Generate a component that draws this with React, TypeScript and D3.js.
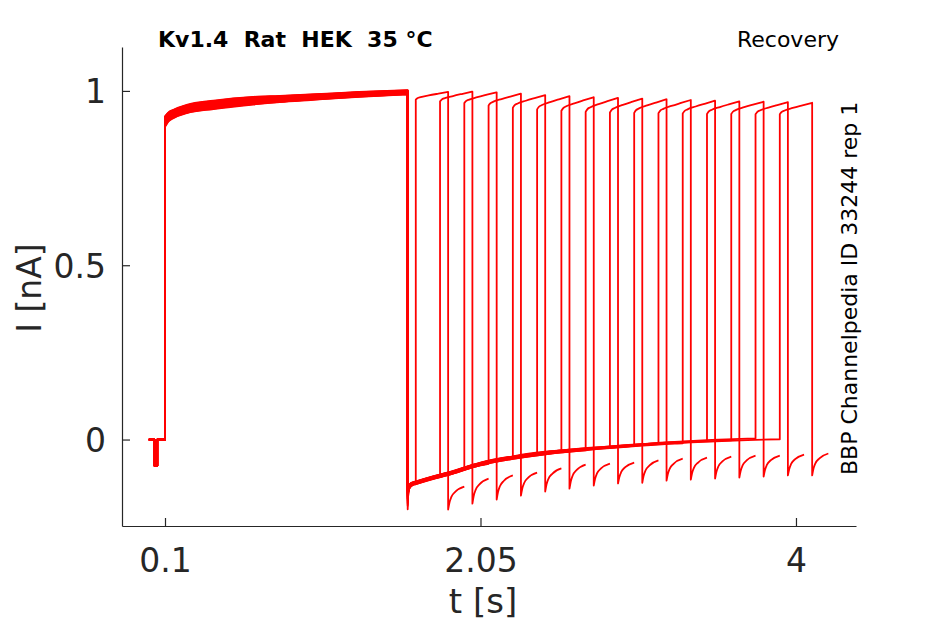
import { useEffect, useRef } from 'react';
import * as d3 from 'd3';

// axis ticks
const xTicks = [0.1, 2.05, 4];
const yTicks = [0, 0.5, 1];

// holding segment before the conditioning pulse (t in s, I in nA)
const holdT = [0, 0.036, 0.036, 0.052, 0.052, 0.1];
const holdI = [0, 0, -0.075, -0.075, 0, 0];

// conditioning pulse 0.1 -> 1.6 s, centre of the trace bundle
const firstT = [0.1, 0.12, 0.152, 0.234, 0.4, 0.645, 0.81, 1.0, 1.3, 1.6];
const firstI = [0.912, 0.925, 0.934, 0.948, 0.96, 0.972, 0.977, 0.982, 0.99, 0.996];
const firstSpread = [0.015, 0.013, 0.012, 0.012, 0.012, 0.011, 0.009, 0.008, 0.007, 0.006];

// tail current after the conditioning pulse
const tailT = [1.606, 1.615, 1.63, 1.65, 1.75, 1.85, 2.05, 2.25, 2.45, 2.85, 3.25, 3.7, 3.95];
const tailI = [-0.14, -0.132, -0.127, -0.124, -0.11, -0.098, -0.07, -0.052, -0.039, -0.022, -0.009, 0, 0.003];
const tailSpread = [0.006, 0.005, 0.004, 0.004, 0.004, 0.004, 0.004, 0.004, 0.004, 0.003, 0.003, 0.003, 0.003];

// one entry per sweep
const tailDip = [-0.2, -0.19, -0.185, -0.18, -0.175, -0.17, -0.17, -0.165, -0.165, -0.16, -0.16, -0.155, -0.155, -0.15, -0.15, -0.145];
const traceSpread = [0.9, -0.6, 0.3, -1, 0.6, -0.2, 1, -0.8, 0.1, -0.4, 0.7, -0.9, 0.4, -0.1, 0.8, -0.5];
const testStart = [1.65, 1.8, 1.95, 2.1, 2.25, 2.4, 2.55, 2.7, 2.85, 3.0, 3.15, 3.3, 3.45, 3.6, 3.75, 3.9];
const testFirst = [0.975, 0.97, 0.965, 0.958, 0.952, 0.947, 0.943, 0.94, 0.938, 0.937, 0.936, 0.935, 0.934, 0.934, 0.933, 0.933];
const testLast = [0.997, 0.998, 0.996, 0.992, 0.988, 0.985, 0.982, 0.98, 0.978, 0.976, 0.974, 0.972, 0.97, 0.969, 0.968, 0.966];
const hookMin = [-0.201, -0.184, -0.172, -0.161, -0.149, -0.141, -0.132, -0.126, -0.124, -0.118, -0.115, -0.112, -0.109, -0.106, -0.103, -0.103];
const hookEnd = [-0.135, -0.112, -0.103, -0.095, -0.083, -0.072, -0.069, -0.066, -0.06, -0.055, -0.052, -0.049, -0.046, -0.046, -0.043, -0.04];

// normalised shapes of test pulse and its tail
const testDur = 0.2;
const pulseShapeT = [0, 0.01, 0.03, 0.08, 0.14, 0.2];
const pulseShape = [0, 0.18, 0.33, 0.55, 0.78, 1];
const hookShapeT = [0, 0.008, 0.02, 0.045, 0.1];
const hookShape = [0, 0.3, 0.55, 0.78, 1];

const font = 'DejaVu Sans';
const axisColor = '#262626';

const App = () => {
  const svgRef = useRef<SVGSVGElement>(null);

  useEffect(() => {
    if (!svgRef.current) return;
    const svg = d3.select(svgRef.current);
    svg.selectAll('*').remove();

    const left = 122, right = 856, top = 47, bottom = 526;
    const x = d3.scaleLinear().domain([-0.1658, 4.371]).range([left, right]);
    const y = d3.scaleLinear().domain([-0.248, 1.126]).range([bottom, top]);

    const smooth = d3.line<number[]>().x(d => x(d[0])).y(d => y(d[1])).curve(d3.curveMonotoneX);
    const straight = d3.line<number[]>().x(d => x(d[0])).y(d => y(d[1]));
    const tailAt = d3.scaleLinear().domain(tailT).range(tailI).clamp(true);
    const tailW = d3.scaleLinear().domain(tailT).range(tailSpread).clamp(true);

    const join = (parts: string[]) => parts.map((p, i) => (i === 0 ? p : 'L' + p.slice(1))).join('');

    const traces = svg.append('g');
    testStart.forEach((t2, k) => {
      const s = traceSpread[k];
      const hold = holdT.map((t, i) => [t, holdI[i]]);
      const first = firstT.map((t, i) => [t, firstI[i] + s * firstSpread[i]]);
      const tail = [[1.6, tailDip[k]]]
        .concat(tailT.filter(t => t < t2).map((t, i) => [t, tailI[i] + s * tailSpread[i]]))
        .concat([[t2, tailAt(t2) + s * tailW(t2)]]);
      const test = pulseShapeT.map((t, i) => [t2 + t, testFirst[k] + (testLast[k] - testFirst[k]) * pulseShape[i]]);
      const hook = hookShapeT.map((t, i) => [t2 + testDur + t, hookMin[k] + (hookEnd[k] - hookMin[k]) * hookShape[i]]);

      traces.append('path')
        .attr('d', join([
          straight(hold) as string,
          smooth(first) as string,
          smooth(tail) as string,
          smooth(test) as string,
          smooth(hook) as string,
        ]))
        .attr('fill', 'none')
        .attr('stroke', '#ff0000')
        .attr('stroke-width', 1.8)
        .attr('stroke-linejoin', 'round');
    });

    // X axis
    svg.append('g')
      .attr('transform', `translate(0,${bottom})`)
      .call(d3.axisBottom(x).tickValues(xTicks).tickSizeInner(-8).tickSizeOuter(0).tickPadding(23)
        .tickFormat(d => `${d}`))
      .call(g => g.select('.domain').attr('stroke', axisColor).attr('stroke-width', 1.2))
      .call(g => g.selectAll('.tick line').attr('stroke', axisColor).attr('stroke-width', 1.2))
      .call(g => g.selectAll('.tick text')
        .attr('font-family', font).attr('font-size', 33).attr('fill', axisColor));

    // Y axis
    svg.append('g')
      .attr('transform', `translate(${left},0)`)
      .call(d3.axisLeft(y).tickValues(yTicks).tickSizeInner(-8).tickSizeOuter(0).tickPadding(16)
        .tickFormat(d => `${d}`))
      .call(g => g.select('.domain').attr('stroke', axisColor).attr('stroke-width', 1.2))
      .call(g => g.selectAll('.tick line').attr('stroke', axisColor).attr('stroke-width', 1.2))
      .call(g => g.selectAll('.tick text')
        .attr('dy', '0.36em')
        .attr('font-family', font).attr('font-size', 33).attr('fill', axisColor));

    // axis labels
    svg.append('text')
      .attr('x', (left + right) / 2 - 6)
      .attr('y', 613)
      .attr('text-anchor', 'middle')
      .attr('font-family', font)
      .attr('font-size', 34)
      .attr('fill', axisColor)
      .text('t [s]');

    svg.append('text')
      .attr('transform', 'translate(41,288) rotate(-90)')
      .attr('text-anchor', 'middle')
      .attr('font-family', font)
      .attr('font-size', 33)
      .attr('fill', axisColor)
      .text('I [nA]');

    // titles
    svg.append('text')
      .attr('x', 158)
      .attr('y', 47)
      .attr('font-family', font)
      .attr('font-size', 22)
      .attr('font-weight', 'bold')
      .attr('fill', '#000')
      .style('white-space', 'pre')
      .text('Kv1.4  Rat  HEK  35 °C');

    svg.append('text')
      .attr('x', 839)
      .attr('y', 47)
      .attr('text-anchor', 'end')
      .attr('font-family', font)
      .attr('font-size', 22)
      .attr('fill', '#000')
      .text('Recovery');

    svg.append('text')
      .attr('transform', 'translate(857,475) rotate(-90)')
      .attr('font-family', font)
      .attr('font-size', 22)
      .attr('fill', '#000')
      .text('BBP Channelpedia ID 33244 rep 1');
  }, []);

  return (
    <div style={{ position: 'absolute', left: 0, top: 0, width: 945, height: 624, background: '#fff' }}>
      <svg ref={svgRef} width={945} height={624} style={{ display: 'block' }} />
    </div>
  );
};

export default App;
